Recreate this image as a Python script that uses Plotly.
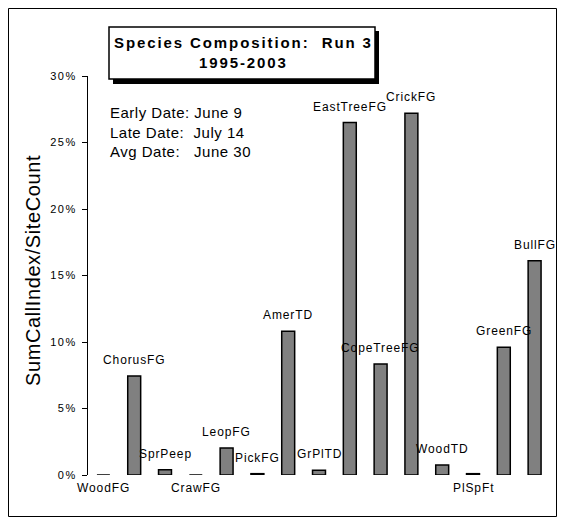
import plotly.graph_objects as go

categories = ["WoodFG", "ChorusFG", "SprPeep", "CrawFG", "LeopFG", "PickFG", "AmerTD",
              "GrPlTD", "EastTreeFG", "CopeTreeFG", "CrickFG", "WoodTD", "PlSpFt",
              "GreenFG", "BullFG"]
values = [0.0, 0.0745, 0.004, 0.0, 0.0203, 0.001, 0.108, 0.0035, 0.265, 0.0835,
          0.272, 0.0075, 0.001, 0.096, 0.161]
tick_vals = [0, 0.05, 0.10, 0.15, 0.20, 0.25, 0.30]
tick_text = ["0%", "5%", "10%", "15%", "20%", "25%", "30%"]
label_side = ["below", "above", "above", "below", "above", "above", "above",
              "above", "above", "above", "above", "above", "below", "above", "above"]

title_lines = ["Species Composition:  Run 3", "1995-2003"]
date_lines = ["Early Date: June 9", "Late Date:  July 14", "Avg Date:   June 30"]
y_title = "SumCallIndex/SiteCount"

# page offset of the figure (browser body margin)
OFF = 8
W, H = 565 - 2 * OFF, 525 - 2 * OFF
L, R, T, B = 88 - OFF, 550 - OFF, 76 - OFF, 475 - OFF
FONT = "Liberation Sans, Arial, sans-serif"


def px(x):
    """reference-page x pixel -> paper coordinate"""
    return (x - OFF - L) / (R - L)


def py(y):
    """reference-page y pixel -> paper coordinate"""
    return (B - (y - OFF)) / (B - T)


def ls(text, sp):
    return f'<span style="letter-spacing:{sp}px">{text}</span>'


fig = go.Figure()
fig.add_trace(go.Bar(
    x=categories, y=values, width=0.42,
    marker=dict(color="#808080", line=dict(color="black", width=1.5)),
    hoverinfo="skip",
))

annotations = []
for c, v, side in zip(categories, values, label_side):
    if side == "above":
        annotations.append(dict(x=c, y=v, xref="x", yref="y", text=ls(c, 0.9),
                                showarrow=False, yanchor="bottom", yshift=7,
                                font=dict(family=FONT, size=12, color="black")))
    else:
        annotations.append(dict(x=c, y=0, xref="x", yref="y", text=ls(c, 0.9),
                                showarrow=False, yanchor="top", yshift=-4,
                                font=dict(family=FONT, size=12, color="black")))

# title box text
annotations.append(dict(x=px(243), y=py(52), xref="paper", yref="paper",
                        text=ls("<b>" + title_lines[0] + "</b>", 1.9) + "<br>" +
                        ls("<b>" + title_lines[1] + "</b>", 1.9),
                        showarrow=False, xanchor="center", yanchor="middle",
                        align="center",
                        font=dict(family=FONT, size=15, color="black")))
# date block
annotations.append(dict(x=px(108), y=py(102), xref="paper", yref="paper",
                        text="<br>".join(ls(t, 0.5) for t in date_lines),
                        showarrow=False, xanchor="left", yanchor="top", align="left",
                        font=dict(family=FONT, size=15, color="black")))
# y axis title
annotations.append(dict(x=px(33), y=py(271), xref="paper", yref="paper",
                        text=ls(y_title, 0.6), textangle=-90, showarrow=False,
                        xanchor="center", yanchor="middle",
                        font=dict(family=FONT, size=20, color="black")))

shapes = [
    # outer frame
    dict(type="rect", xref="paper", yref="paper", x0=px(8.5), x1=px(556.5), y0=py(516.5), y1=py(8.5),
         line=dict(color="black", width=1), fillcolor="rgba(0,0,0,0)", layer="below"),
    # title shadow
    dict(type="rect", xref="paper", yref="paper", x0=px(113), x1=px(379), y0=py(84), y1=py(31),
         line=dict(width=0), fillcolor="black", layer="above"),
    # title box
    dict(type="rect", xref="paper", yref="paper", x0=px(109), x1=px(375), y0=py(79), y1=py(27),
         line=dict(color="black", width=1.5), fillcolor="white", layer="above"),
]

fig.update_layout(
    width=W, height=H,
    margin=dict(l=L, r=W - R, t=T, b=H - B, pad=0),
    paper_bgcolor="white", plot_bgcolor="white",
    showlegend=False,
    xaxis=dict(range=[-0.5, len(categories) - 0.5], showticklabels=False, showline=False,
               ticks="", showgrid=False, zeroline=False, fixedrange=True),
    yaxis=dict(range=[0, 0.30], tickvals=tick_vals,
               ticktext=[ls(t, 1.5) for t in tick_text],
               ticks="outside", ticklen=5, tickcolor="black", tickwidth=1,
               showline=True, linecolor="black", linewidth=1.2,
               showgrid=False, zeroline=False, ticklabelstandoff=3,
               tickfont=dict(family=FONT, size=11, color="black"), fixedrange=True),
    annotations=annotations,
    shapes=shapes,
    font=dict(family=FONT),
)

fig.write_html("out.html")
